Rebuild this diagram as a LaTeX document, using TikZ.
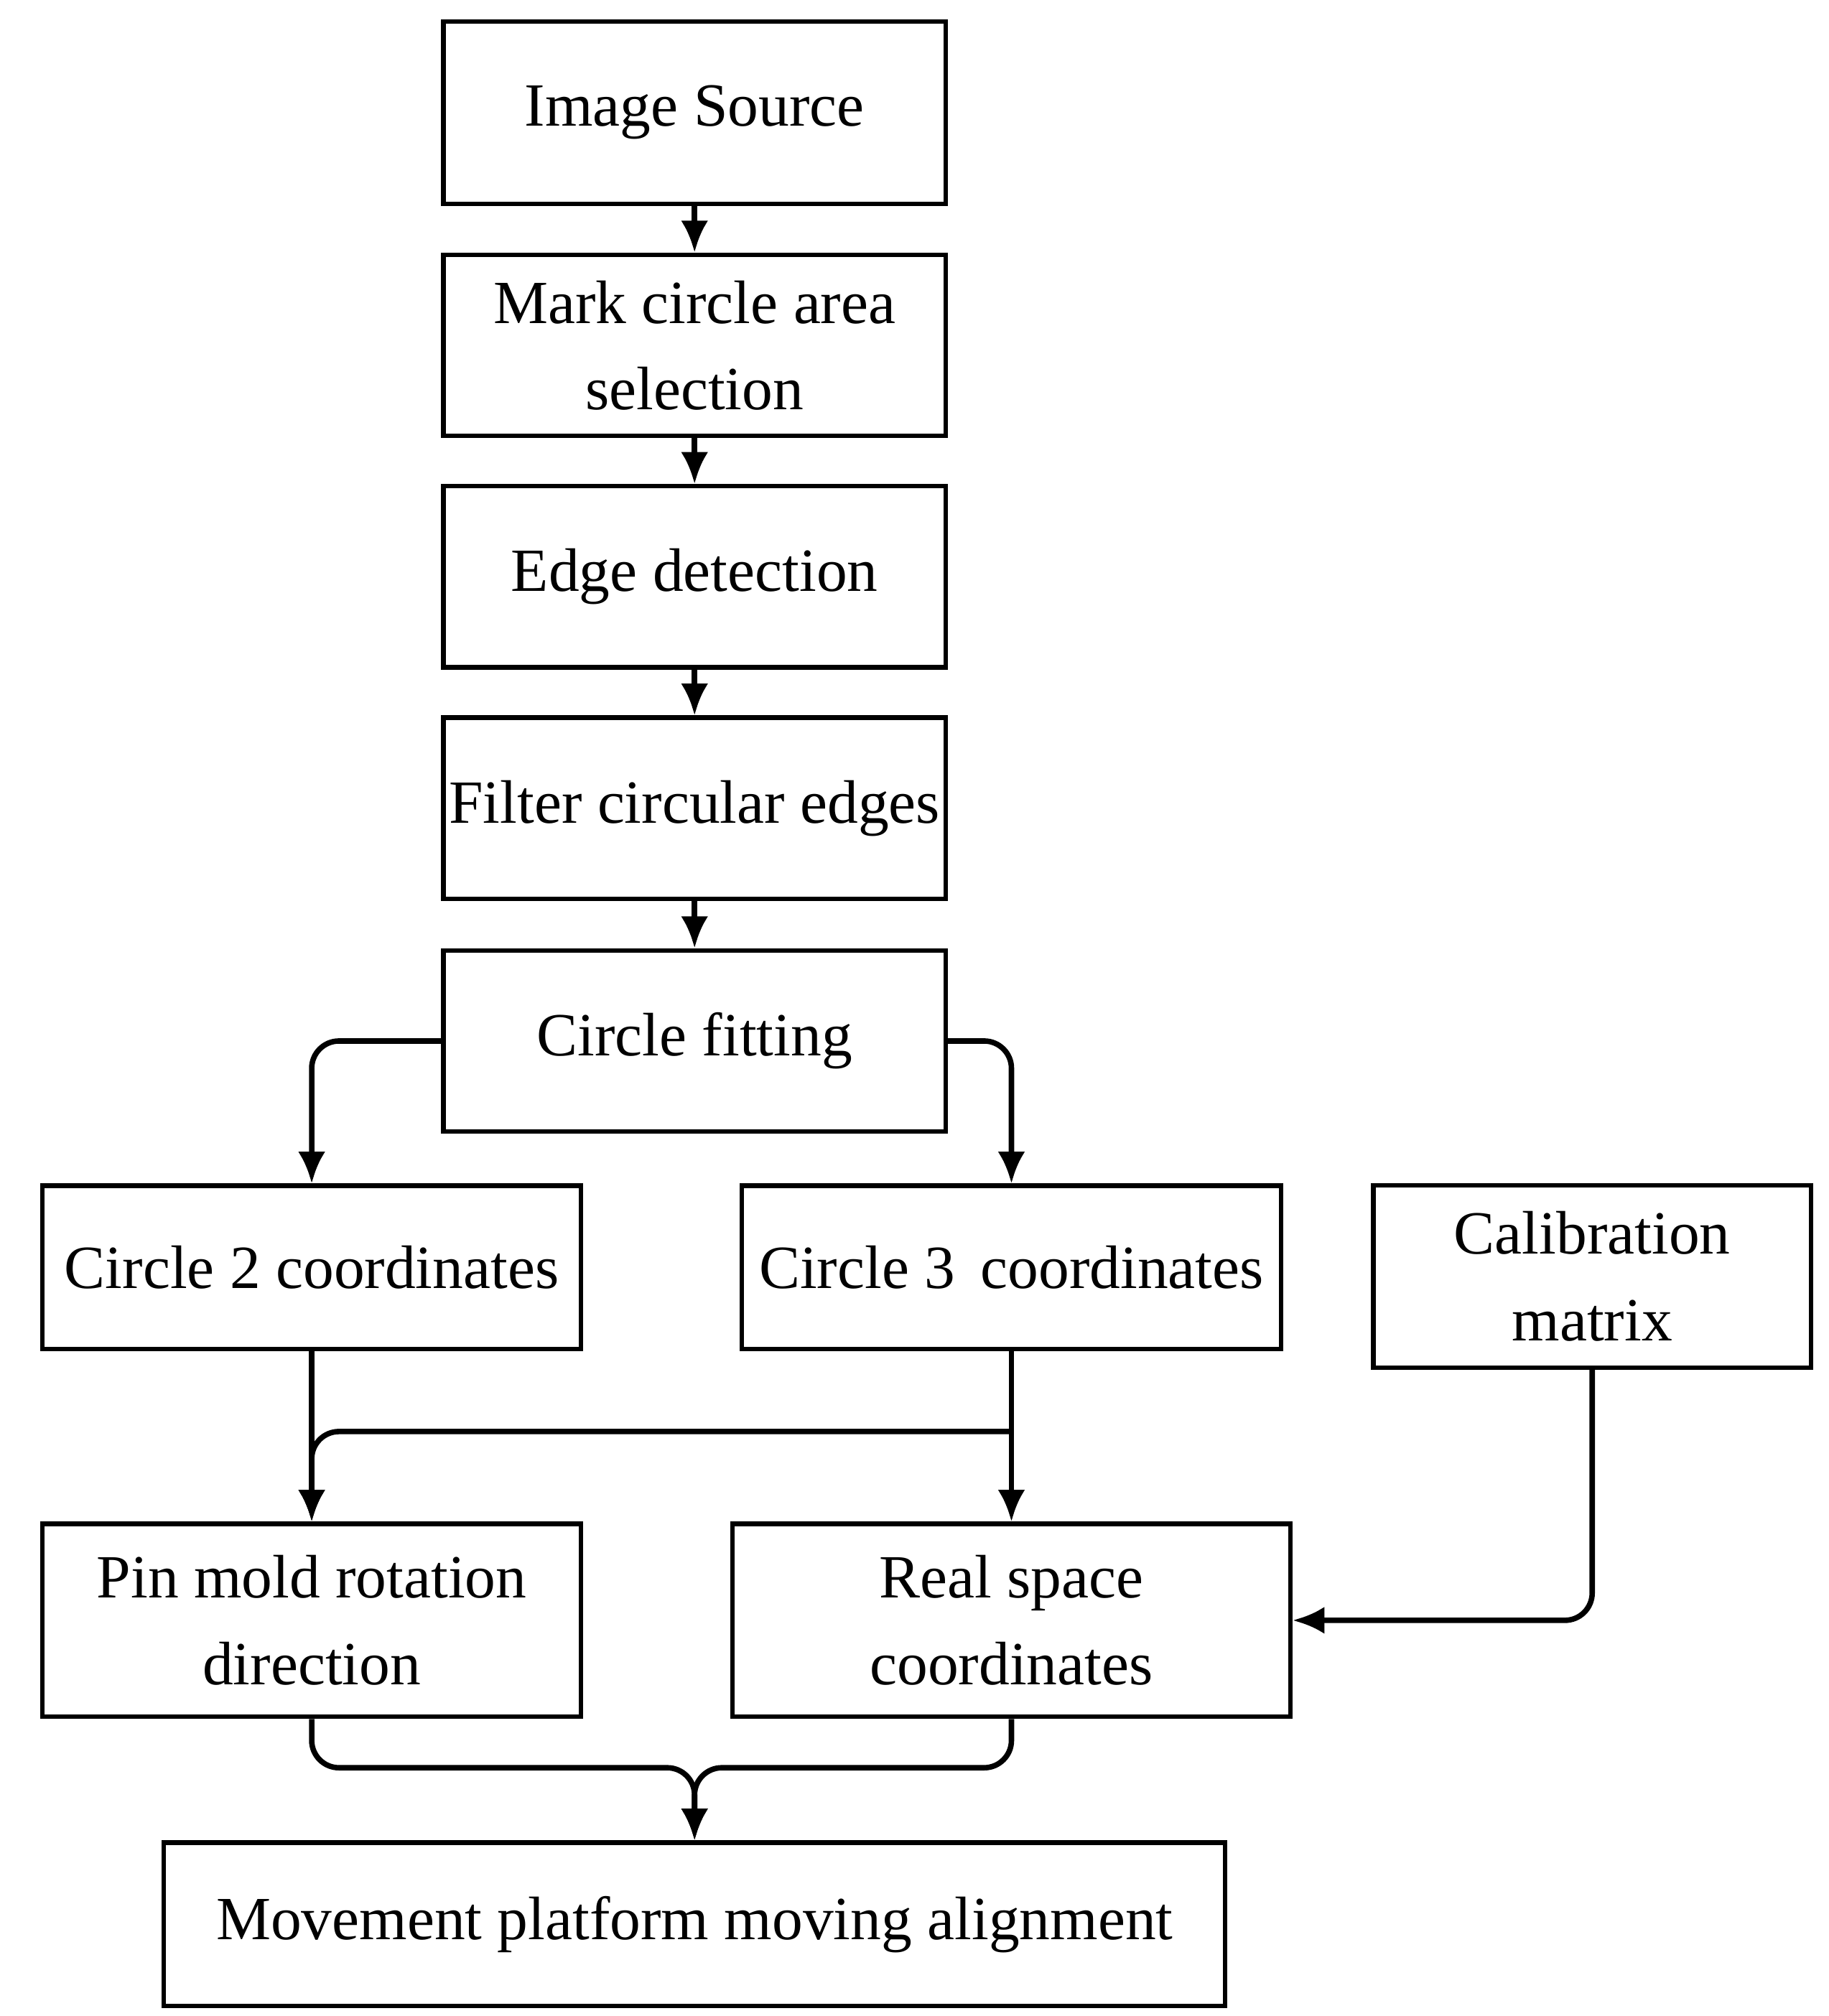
\documentclass[tikz,border=0pt]{standalone}
\usepackage{fontspec}
\setmainfont{Liberation Serif}
\usetikzlibrary{arrows.meta}
\begin{document}
\begin{tikzpicture}[x=0.01cm,y=-0.01cm,
  box/.style={draw, line width=1pt, inner sep=0pt, align=center, font=\fontsize{13.5}{19}\selectfont},
  flow/.style={-{Latex[length=7pt,width=6pt]}, line width=1.2pt, rounded corners=6pt}]
\useasboundingbox (0,0) rectangle (1414,1559);
% main chain
\node[box, minimum width=3.88cm, minimum height=1.41cm] (src) at (537,87) {Image Source};
\node[box, minimum width=3.88cm, minimum height=1.40cm] (mark) at (537,267) {Mark circle area\\selection};
\node[box, minimum width=3.88cm, minimum height=1.40cm] (edge) at (537,446) {Edge detection};
\node[box, minimum width=3.88cm, minimum height=1.40cm] (filt) at (537,625) {Filter circular edges};
\node[box, minimum width=3.88cm, minimum height=1.40cm] (fit) at (537,805) {Circle fitting};
% coordinates
\node[box, minimum width=4.16cm, minimum height=1.26cm] (c2) at (241,980) {Circle 2 coordinates};
\node[box, minimum width=4.17cm, minimum height=1.26cm] (c3) at (782,980) {Circle 3\, coordinates};
\node[box, minimum width=3.38cm, minimum height=1.41cm] (cal) at (1231,987) {Calibration\\matrix};
\node[box, minimum width=4.16cm, minimum height=1.49cm] (pin) at (241,1253) {Pin mold rotation\\direction};
\node[box, minimum width=4.31cm, minimum height=1.49cm] (real) at (782,1253) {Real space\\coordinates};
\node[box, minimum width=8.20cm, minimum height=1.26cm] (move) at (537,1488) {Movement platform moving alignment};
\coordinate (j1) at (782,1107);
\coordinate (j2) at (537,1367);

\draw[flow] (src) -- (mark);
\draw[flow] (mark) -- (edge);
\draw[flow] (edge) -- (filt);
\draw[flow] (filt) -- (fit);
\draw[flow] (fit.west) -| (c2.north);
\draw[flow] (fit.east) -| (c3.north);
\draw[flow] (c2.south) -- (pin.north);
\draw[flow] (c3.south) -- (real.north);
\draw[flow] (j1) -| (pin.north);
\draw[flow] (cal.south) |- (real.east);
\draw[flow] (pin.south) |- (j2) -- (move.north);
\draw[flow] (real.south) |- (j2) -- (move.north);
\end{tikzpicture}
\end{document}
